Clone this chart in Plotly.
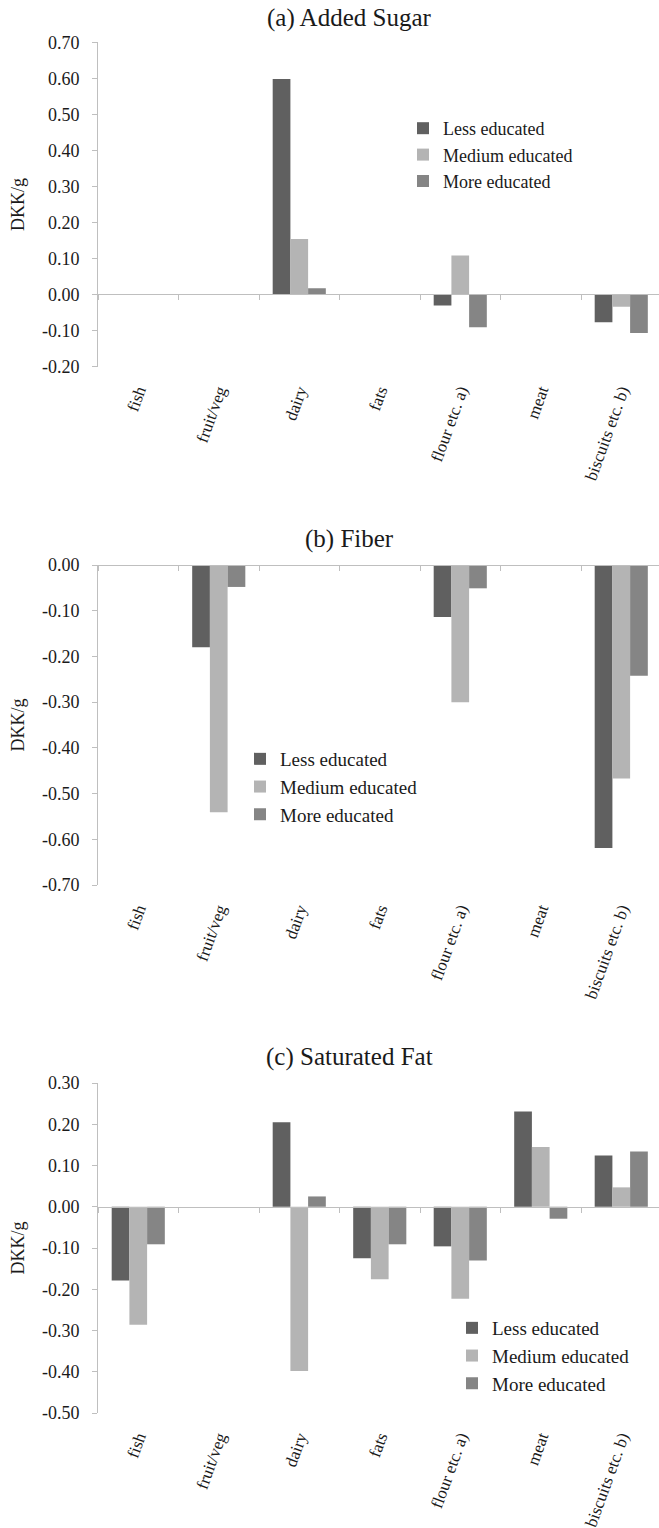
import plotly.graph_objects as go

# ---------------- data ----------------
categories = ["fish", "fruit/veg", "dairy", "fats", "flour etc. a)", "meat", "biscuits etc. b)"]
series_names = ["Less educated", "Medium educated", "More educated"]

sugar_less = [None, None, 0.598, None, -0.031, None, -0.077]
sugar_medium = [None, None, 0.154, None, 0.108, None, -0.034]
sugar_more = [None, None, 0.017, None, -0.091, None, -0.107]

fiber_less = [None, -0.180, None, None, -0.114, None, -0.619]
fiber_medium = [None, -0.541, None, None, -0.300, None, -0.467]
fiber_more = [None, -0.048, None, None, -0.051, None, -0.242]

satfat_less = [-0.179, None, 0.205, -0.125, -0.096, 0.231, 0.124]
satfat_medium = [-0.286, None, -0.398, -0.176, -0.223, 0.145, 0.047]
satfat_more = [-0.091, None, 0.025, -0.091, -0.130, -0.029, 0.134]

panel_titles = ["(a) Added Sugar", "(b) Fiber", "(c) Saturated Fat"]
sugar_ticks = [0.70, 0.60, 0.50, 0.40, 0.30, 0.20, 0.10, 0.00, -0.10, -0.20]
fiber_ticks = [0.00, -0.10, -0.20, -0.30, -0.40, -0.50, -0.60, -0.70]
satfat_ticks = [0.30, 0.20, 0.10, 0.00, -0.10, -0.20, -0.30, -0.40, -0.50]
y_label = "DKK/g"

# ---------------- style / layout ----------------
W, H = 659, 1528
FONT = "Liberation Serif, Times New Roman, serif"
TXT = "#1a1a1a"
AXC = "#BFBFBF"
colors = ["#606060", "#b4b4b4", "#858585"]

panels = [
    dict(vals=[sugar_less, sugar_medium, sugar_more], ticks=sugar_ticks, top=42.3, bottom=366.5,
         title_y=18, leg_x=403, leg_y=110, leg_font=18),
    dict(vals=[fiber_less, fiber_medium, fiber_more], ticks=fiber_ticks, top=565, bottom=885,
         title_y=539, leg_x=240, leg_y=740, leg_font=19),
    dict(vals=[satfat_less, satfat_medium, satfat_more], ticks=satfat_ticks, top=1083, bottom=1413,
         title_y=1057, leg_x=452, leg_y=1309, leg_font=19),
]

x_left = 98
xr = [-0.5, -0.5 + (W - x_left) / 80.5]

fig = go.Figure()
layout = dict(
    width=W, height=H, margin=dict(l=0, r=0, t=0, b=0, autoexpand=False),
    paper_bgcolor="white", plot_bgcolor="white",
    font=dict(family=FONT, size=18, color=TXT),
    barmode="group", bargap=0.34, bargroupgap=0,
    annotations=[],
)

for i, p in enumerate(panels):
    k = i + 1
    xa = "x" if k == 1 else f"x{k}"
    ya = "y" if k == 1 else f"y{k}"
    lg = "legend" if k == 1 else f"legend{k}"
    for name, vals, c in zip(series_names, p["vals"], colors):
        fig.add_trace(go.Bar(x=categories, y=vals, name=name, marker=dict(color=c, line=dict(width=0)),
                             xaxis=xa, yaxis=ya, legend=lg))
    d0 = 1 - p["bottom"] / H
    d1 = 1 - p["top"] / H
    ymin, ymax = min(p["ticks"]), max(p["ticks"])
    zero_pos = d0 + (0 - ymin) / (ymax - ymin) * (d1 - d0)

    layout[f"xaxis{'' if k == 1 else k}"] = dict(
        domain=[x_left / W, 1], anchor=ya, type="category", range=xr,
        categoryorder="array", categoryarray=categories,
        showline=False, showgrid=False, zeroline=False, ticks="",
        tickangle=-70, tickfont=dict(size=17, family=FONT, color=TXT), ticklabelstandoff=10,
    )
    layout[f"yaxis{'' if k == 1 else k}"] = dict(
        domain=[d0, d1], anchor=xa, range=[ymin, ymax],
        tickvals=p["ticks"], ticktext=[f"{v:.2f}" for v in p["ticks"]],
        showline=True, linecolor=AXC, linewidth=1, ticks="outside", ticklen=5, tickcolor=AXC,
        showgrid=False, zeroline=False, ticklabelstandoff=9,
        tickfont=dict(size=18, family=FONT, color=TXT),
        title=dict(text=y_label, font=dict(size=18, family=FONT, color=TXT), standoff=12),
    )
    # overlay axis drawing the zero baseline with category-boundary tick marks
    ov = 3 + k
    bounds = [j - 0.5 for j in range(len(categories) + 1)]
    layout[f"xaxis{ov}"] = dict(
        domain=[x_left / W, 1], overlaying=xa, anchor="free", position=zero_pos,
        type="linear", range=xr, tickvals=bounds, showticklabels=False,
        ticks="outside", ticklen=5, tickcolor=AXC, showline=True, linecolor=AXC, linewidth=1,
        showgrid=False, zeroline=False,
    )
    fig.add_trace(go.Scatter(x=[None], y=[None], xaxis=f"x{ov}", yaxis=ya, showlegend=False,
                             hoverinfo="skip"))
    layout[lg] = dict(
        x=p["leg_x"] / W, y=1 - p["leg_y"] / H, xanchor="left", yanchor="top",
        font=dict(size=p["leg_font"], family=FONT, color=TXT), bgcolor="rgba(0,0,0,0)",
        tracegroupgap=0, itemclick=False,
    )
    layout["annotations"].append(dict(
        text=panel_titles[i], x=349 / W, y=1 - p["title_y"] / H, xref="paper", yref="paper",
        xanchor="center", yanchor="middle", showarrow=False,
        font=dict(size=25, family=FONT, color=TXT),
    ))

fig.update_layout(**layout)
fig.write_html("out.html", config={"displayModeBar": False, "staticPlot": True},
               post_script="document.body.style.margin='0';document.body.style.overflow='hidden';")
